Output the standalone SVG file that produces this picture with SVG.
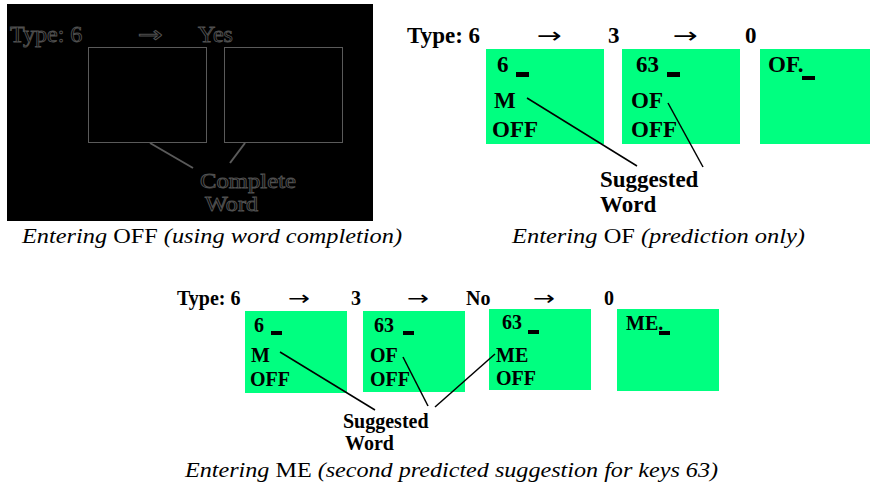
<svg xmlns="http://www.w3.org/2000/svg" width="873" height="489" viewBox="0 0 873 489">
<style>
.b{font-family:"Liberation Serif",serif;font-weight:bold;fill:#000}
.t{font-size:23px}
.s{font-size:20px}
.ar{font-family:"DejaVu Sans",sans-serif;fill:#000}
.box{fill:#00ff80}
.dk{font-family:"Liberation Serif",serif;font-size:24px;fill:#000;stroke:#505050;stroke-width:0.9}
.dbox{fill:none;stroke:#5a5a5a;stroke-width:1}
.cap{font-family:"Liberation Serif",serif;font-size:22px;fill:#000}
.it{font-style:italic}
.ln{stroke:#000;stroke-width:1.5;fill:none}
.dln{stroke:#5a5a5a;stroke-width:2;fill:none}
</style>
<rect width="873" height="489" fill="#fff"/>

<!-- Panel 1: black -->
<g id="panel1">
<rect x="7" y="4" width="366" height="217" fill="#000"/>
<text class="dk" x="10" y="42">Type: 6</text>
<text x="138" y="42" textLength="25" lengthAdjust="spacingAndGlyphs" style="font-family:'DejaVu Sans',sans-serif;font-size:22px;fill:#000;stroke:#505050;stroke-width:0.9">→</text>
<text class="dk" x="198" y="42">Yes</text>
<rect class="dbox" x="88.5" y="47.5" width="118" height="95"/>
<rect class="dbox" x="224.5" y="47.5" width="118" height="95"/>
<text class="dk" x="200" y="188" style="font-size:21px" textLength="96" lengthAdjust="spacingAndGlyphs">Complete</text>
<text class="dk" x="205" y="211" style="font-size:21px" textLength="53" lengthAdjust="spacingAndGlyphs">Word</text>
</g>

<!-- Panel 2 -->
<g id="p2-type">
<text class="b t" x="407" y="43">Type: 6</text>
<text class="ar" x="537" y="43" font-size="22" textLength="25" lengthAdjust="spacingAndGlyphs">→</text>
<text class="b t" x="608" y="43">3</text>
<text class="ar" x="673" y="43" font-size="22" textLength="25" lengthAdjust="spacingAndGlyphs">→</text>
<text class="b t" x="745" y="43">0</text>
</g>
<g id="p2-box1">
<rect class="box" x="486" y="49" width="118" height="95"/>
<text class="b t" x="497" y="72">6</text>
<rect x="516" y="72" width="13" height="5" fill="#000"/>
<text class="b t" x="494" y="108">M</text>
<text class="b t" x="492" y="137">OFF</text>
</g>
<g id="p2-box2">
<rect class="box" x="622" y="49" width="118" height="95"/>
<text class="b t" x="636" y="72">63</text>
<rect x="667" y="72" width="13" height="5" fill="#000"/>
<text class="b t" x="631" y="108">OF</text>
<text class="b t" x="631" y="137">OFF</text>
</g>
<g id="p2-box3">
<rect class="box" x="760" y="49" width="110" height="95"/>
<text class="b t" x="768" y="72">OF.</text>
<rect x="802" y="76" width="13" height="4" fill="#000"/>
</g>
<g id="p2-label">
<text class="b t" x="600" y="187">Suggested</text>
<text class="b t" x="600" y="212">Word</text>
</g>

<!-- Panel 3 -->
<g id="p3-type">
<text class="b s" x="177" y="305">Type: 6</text>
<text class="ar" x="288" y="305" font-size="20" textLength="22" lengthAdjust="spacingAndGlyphs">→</text>
<text class="b s" x="351" y="305">3</text>
<text class="ar" x="407" y="305" font-size="20" textLength="22" lengthAdjust="spacingAndGlyphs">→</text>
<text class="b s" x="466" y="305">No</text>
<text class="ar" x="533" y="305" font-size="20" textLength="22" lengthAdjust="spacingAndGlyphs">→</text>
<text class="b s" x="604" y="305">0</text>
</g>
<g id="p3-box1">
<rect class="box" x="245" y="311" width="102" height="82"/>
<text class="b s" x="254" y="332">6</text>
<rect x="271" y="331" width="11" height="4" fill="#000"/>
<text class="b s" x="251" y="362">M</text>
<text class="b s" x="250" y="386">OFF</text>
</g>
<g id="p3-box2">
<rect class="box" x="363" y="311" width="102" height="81"/>
<text class="b s" x="374" y="332">63</text>
<rect x="403" y="331" width="11" height="4" fill="#000"/>
<text class="b s" x="370" y="362">OF</text>
<text class="b s" x="370" y="386">OFF</text>
</g>
<g id="p3-box3">
<rect class="box" x="489" y="309" width="102" height="81"/>
<text class="b s" x="502" y="329">63</text>
<rect x="528" y="330" width="11" height="4" fill="#000"/>
<text class="b s" x="496" y="362">ME</text>
<text class="b s" x="496" y="385">OFF</text>
</g>
<g id="p3-box4">
<rect class="box" x="617" y="309" width="102" height="82"/>
<text class="b s" x="626" y="330">ME.</text>
<rect x="659" y="331" width="11" height="4" fill="#000"/>
</g>
<g id="p3-label">
<text class="b s" x="343" y="428">Suggested</text>
<text class="b s" x="345" y="450">Word</text>
</g>

<!-- Connectors -->
<g id="connectors">
<line class="dln" x1="150" y1="143" x2="193" y2="168"/>
<line class="dln" x1="245" y1="143" x2="230" y2="163"/>
<line class="ln" x1="527" y1="98" x2="637" y2="166"/>
<line class="ln" x1="668" y1="103" x2="703" y2="167"/>
<line class="ln" x1="280" y1="352" x2="375" y2="410"/>
<line class="ln" x1="403" y1="357" x2="428" y2="406"/>
<line class="ln" x1="435" y1="407" x2="495" y2="354"/>
</g>

<!-- Captions -->
<g id="captions">
<text class="cap" x="22" y="243" textLength="380" lengthAdjust="spacingAndGlyphs"><tspan class="it">Entering</tspan> OFF <tspan class="it">(using word completion)</tspan></text>
<text class="cap" x="512" y="243" textLength="293" lengthAdjust="spacingAndGlyphs"><tspan class="it">Entering</tspan> OF <tspan class="it">(prediction only)</tspan></text>
<text class="cap" x="185" y="477" textLength="533" lengthAdjust="spacingAndGlyphs"><tspan class="it">Entering</tspan> ME <tspan class="it">(second predicted suggestion for keys 63)</tspan></text>
</g>
</svg>
